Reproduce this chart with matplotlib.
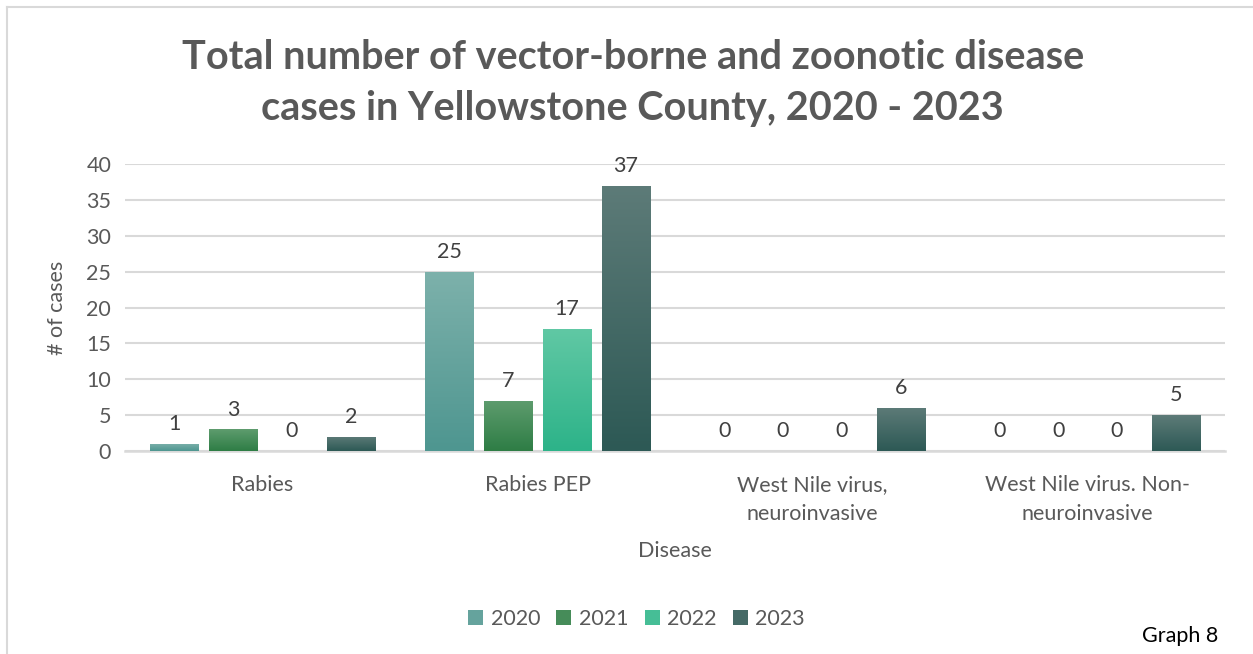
import matplotlib
matplotlib.use("Agg")
import matplotlib.pyplot as plt
import numpy as np
from matplotlib.colors import LinearSegmentedColormap
from matplotlib.lines import Line2D

plt.rcParams['font.family'] = ['Lato', 'DejaVu Sans']

# data
diseases = ['Rabies', 'Rabies PEP', 'West Nile virus,\nneuroinvasive', 'West Nile virus. Non-\nneuroinvasive']
years = ['2020', '2021', '2022', '2023']
cases_2020 = [1, 25, 0, 0]
cases_2021 = [3, 7, 0, 0]
cases_2022 = [0, 17, 0, 0]
cases_2023 = [2, 37, 6, 5]
series = [cases_2020, cases_2021, cases_2022, cases_2023]

# (top colour, mid colour, bottom colour) per year
grads = [('#7db1ab', '#65a39d', '#4e9690'),
         ('#5e9c6e', '#468c59', '#2e7d45'),
         ('#60c8a4', '#46be96', '#2db389'),
         ('#5d7b78', '#456a66', '#2d5955')]
txt = '#595959'
grid_c = '#d9d9d9'

fig = plt.figure(figsize=(12.53, 6.54), dpi=100)
ax = fig.add_axes([0.0998, 0.3104, 0.8779, 0.4388])

x = np.arange(len(diseases))
bar_w = 0.178
step = 0.2145
for i, vals in enumerate(series):
    pos = x + (i - 1.5) * step
    bars = ax.bar(pos, vals, bar_w, color=grads[i][1], label=years[i], zorder=3)
    cmap = LinearSegmentedColormap.from_list('g%d' % i, [grads[i][2], grads[i][0]])
    for b, v in zip(bars, vals):
        if v > 0:
            im = ax.imshow(np.linspace(0, 1, 100).reshape(-1, 1), cmap=cmap, origin='lower',
                           extent=[b.get_x(), b.get_x() + b.get_width(), 0, v],
                           aspect='auto', zorder=3.5)
            im.set_clip_path(b)
        ax.annotate(str(v), (b.get_x() + b.get_width() / 2, v), xytext=(0, 7),
                    textcoords='offset points', ha='center', va='bottom',
                    fontsize=15.5, color='#404040')

ax.set_xlim(-0.5, 3.5)
ax.set_ylim(0, 40)
ax.set_yticks(range(0, 41, 5))
ax.yaxis.grid(True, color=grid_c, linewidth=1.5, zorder=0)
ax.set_axisbelow(True)
for s in ['top', 'right', 'left']:
    ax.spines[s].set_visible(False)
ax.spines['bottom'].set_color(grid_c)
ax.spines['bottom'].set_linewidth(1.8)
ax.tick_params(axis='both', length=0, labelsize=15.5, colors=txt)
ax.tick_params(axis='x', pad=17)
ax.tick_params(axis='y', pad=10)
ax.set_xticks(x)
ax.set_xticklabels(diseases, linespacing=1.6)
ax.set_xlabel('Disease', fontsize=15.5, color=txt, labelpad=12)
ax.set_ylabel('# of cases', fontsize=15.5, color=txt, labelpad=14)

fig.suptitle('Total number of vector-borne and zoonotic disease\ncases in Yellowstone County, 2020 - 2023',
             x=0.505, y=0.94, fontsize=28.5, fontweight='bold', color=txt, linespacing=1.45)

leg = ax.legend(loc='center', bbox_to_anchor=(0.465, -0.587), ncol=4, frameon=False,
                fontsize=15.5, handlelength=0.7, handleheight=0.7, handletextpad=0.35,
                columnspacing=0.75, labelcolor=txt)

# chart frame (top and left edges)
fig.add_artist(Line2D([7 / 1253, 1], [1 - 7 / 654, 1 - 7 / 654], color=grid_c, lw=1.5))
fig.add_artist(Line2D([7 / 1253, 7 / 1253], [0, 1 - 7 / 654], color=grid_c, lw=1.5))

fig.text(1180 / 1253, 1 - 636 / 654, 'Graph 8', ha='center', va='center', fontsize=15.5, color='black')

fig.savefig('out.png', dpi=100)
